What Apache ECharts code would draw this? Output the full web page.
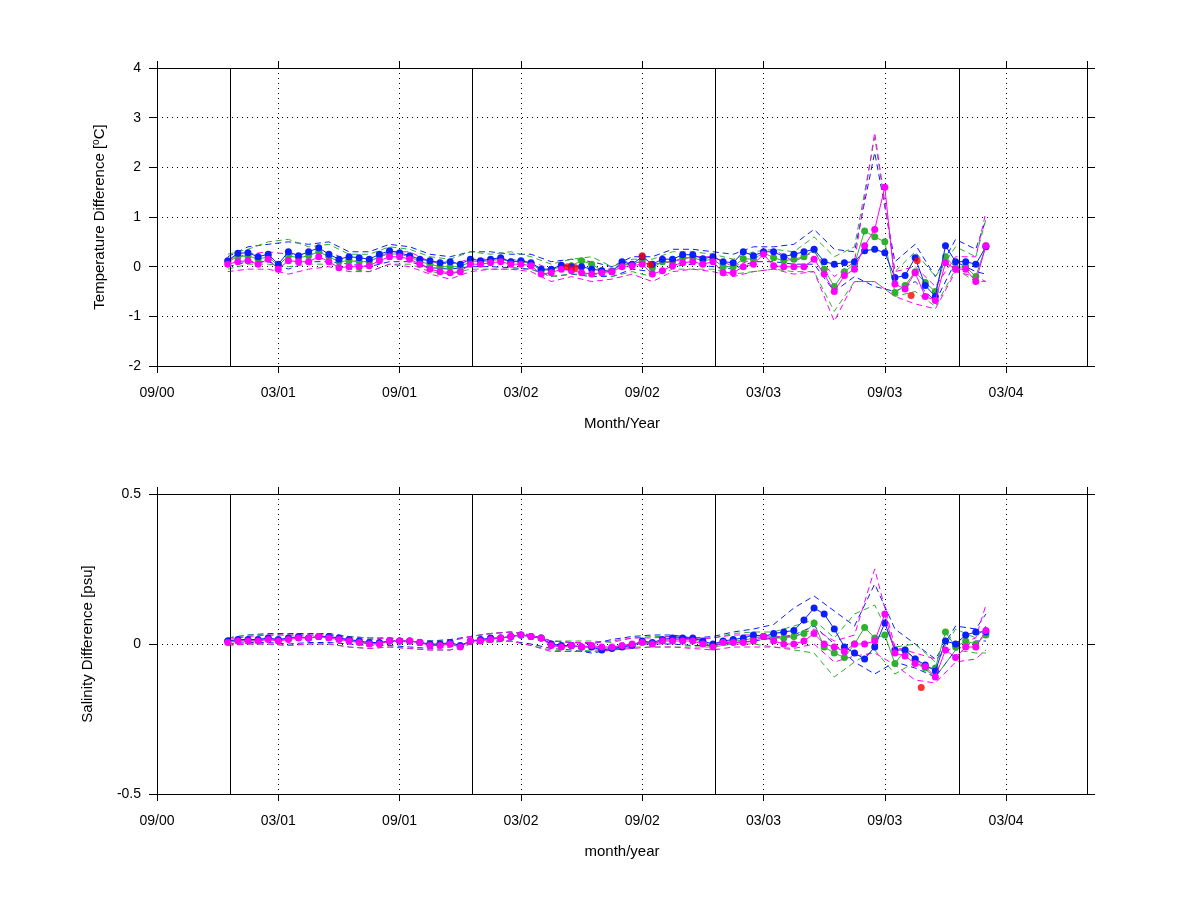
<!DOCTYPE html>
<html><head><meta charset="utf-8">
<script src="https://cdn.jsdelivr.net/npm/echarts@6/dist/echarts.min.js"></script>
<style>html,body{margin:0;background:#fff}#c{width:1200px;height:900px}</style>
</head><body><div id="c"></div>
<script>
// x in months since Sep 2000
const tickLabels = ['09/00','03/01','09/01','03/02','09/02','03/03','09/03','03/04'];
const yearLines = [3.6, 15.6, 27.6, 39.7];
const xsMean = []; for (let m = 3.5; m <= 41.001; m += 0.5) xsMean.push(+m.toFixed(1));
const xsEnv = []; for (let m = 3.5; m <= 40.501; m += 1) xsEnv.push(m); xsEnv.push(41);

// Temperature (top)
const tBlue = [.12,.27,.28,.2,.25,.05,.3,.22,.3,.38,.25,.15,.2,.18,.15,.25,.32,.28,.22,.15,.12,.08,.1,.05,.15,.12,.15,.18,.1,.12,.08,-.05,-.05,.03,0,0,-.05,-.08,-.1,.1,.05,.2,.05,.15,.15,.24,.24,.16,.2,.1,.08,.3,.22,.3,.3,.2,.25,.3,.35,.1,.05,.08,.1,.32,.35,.28,-.22,-.18,.18,-.38,-.6,.42,.1,.1,.05,.4];
const tMag = [.05,.1,.12,.05,.15,-.05,.12,.1,.1,.2,.1,-.02,0,0,.02,.12,.2,.2,.15,.05,-.05,-.1,-.12,-.1,.05,.05,.08,.1,.05,.05,.02,-.15,-.12,-.05,-.08,-.12,-.15,-.12,-.1,0,.02,.05,-.15,-.08,.02,.08,.1,.05,.1,-.12,-.12,0,.05,.25,.02,0,0,0,.15,-.15,-.5,-.18,-.05,.42,.75,1.6,-.35,-.45,-.12,-.6,-.68,.08,-.05,-.05,-.3,.42];
const tGreen = [.1,.2,.22,.15,.2,.02,.22,.18,.22,.3,.2,.1,.12,.1,.1,.2,.26,.25,.2,.1,.05,0,0,0,.1,.1,.12,.15,.1,.1,.06,-.08,-.06,0,.02,.12,.05,-.08,-.08,.05,.04,.12,-.02,.1,.1,.18,.18,.12,.15,0,0,.16,.15,.28,.18,.12,.15,.2,.34,-.05,-.4,-.1,.05,.72,.6,.5,-.52,-.38,-.1,-.32,-.5,.2,-.02,0,-.2,.42];
const tRed = [[20.3,0.0],[20.7,-0.02],[24.0,0.22],[24.4,0.04],[37.3,-0.58],[37.6,0.12]];
const tBlueHi = [.2,.4,.45,.5,.45,.5,.3,.3,.45,.4,.25,.2,.3,.3,.25,.25,.1,.15,.1,0,.2,.2,.35,.35,.3,.25,.4,.4,.45,.75,.35,.3,2.3,.1,.45,-.2,.55,.35,.95];
const tBlueLo = [0,.1,.1,-.05,.1,.1,.05,0,.1,.1,-.02,-.05,0,0,-.02,-.05,-.2,-.15,-.2,-.2,-.05,-.1,0,.05,0,-.05,.1,.1,.05,.05,-.5,-.2,-.4,-.5,-.3,-.7,.1,-.1,-.15];
const tMagHi = [.15,.25,.3,.25,.25,.3,.12,.1,.3,.3,.1,.05,.15,.15,.15,.1,-.05,0,-.05,-.05,.1,.05,.1,.2,.2,0,.15,.35,.1,.3,-.2,.1,2.7,-.1,0,-.4,.2,.2,1.1];
const tMagLo = [-.1,-.05,-.05,-.15,-.05,0,-.1,-.1,.05,0,-.15,-.25,-.1,-.05,-.05,-.1,-.3,-.2,-.3,-.25,-.15,-.3,-.1,-.05,-.1,-.2,-.1,-.05,-.15,-.1,-1.1,-.3,-.3,-.6,-.75,-.85,-.1,-.2,-.3];
const tGreenHi = [.25,.35,.5,.55,.4,.45,.25,.25,.4,.35,.2,.15,.3,.25,.3,.2,.05,.15,.2,0,.15,.15,.3,.3,.25,.15,.3,.35,.3,.6,.2,.4,2.6,-.1,.3,-.2,.4,.2,.95];
const tGreenLo = [-.05,.05,.05,0,.05,.05,-.05,-.1,.05,.05,-.1,-.15,-.05,-.05,-.05,-.05,-.2,-.15,-.15,-.2,-.1,-.2,-.05,-.05,-.05,-.15,-.1,-.05,-.1,-.1,-.9,-.3,-.3,-.6,-.5,-.8,-.05,-.3,-.3];

// Salinity (bottom)
const sBlue = [.01,.015,.015,.015,.02,.015,.02,.025,.02,.025,.025,.02,.015,.01,.005,.005,.01,.01,.01,.005,0,0,.005,-.005,.01,.015,.02,.02,.025,.03,.025,.02,0,-.005,-.005,-.01,-.01,-.02,-.015,-.01,-.005,.01,.005,.015,.02,.02,.02,.01,0,.01,.015,.02,.03,.025,.035,.04,.045,.08,.12,.1,.05,-.01,-.03,-.05,-.01,.07,-.02,-.02,-.05,-.07,-.09,.01,0,.03,.04,.04];
const sMag = [.005,.01,.01,.01,.015,.01,.015,.02,.02,.025,.02,.015,.01,.005,0,0,.01,.01,.01,.005,-.005,-.005,0,-.01,.01,.01,.015,.02,.025,.03,.025,.02,-.005,-.01,-.005,-.01,-.005,-.01,-.01,-.005,0,.005,0,.01,.01,.01,.01,0,-.01,.005,.005,.005,.01,.025,.01,0,0,.01,.035,0,-.01,-.025,0,0,.01,.1,-.03,-.04,-.065,-.075,-.11,-.02,-.045,-.01,-.01,.045];
const sGreen = [.01,.012,.012,.012,.018,.012,.018,.022,.02,.025,.022,.018,.012,.008,.002,.002,.01,.01,.01,.005,-.002,-.002,.002,-.008,.01,.012,.018,.02,.025,.03,.025,.02,-.002,-.008,-.005,-.01,-.008,-.015,-.012,-.008,-.002,.008,.002,.012,.015,.015,.015,.005,-.005,.008,.01,.012,.02,.025,.02,.02,.025,.035,.07,-.01,-.03,-.045,0,.055,.02,.03,-.065,-.02,-.05,-.08,-.08,.04,-.01,.01,0,.03];
const sRed = [[37.8,-0.145]];
const sBlueHi = [.02,.03,.035,.035,.035,.035,.025,.02,.02,.015,.01,.015,.025,.035,.04,.03,.01,.005,0,.015,.025,.03,.03,.02,.025,.04,.05,.065,.12,.16,.11,.06,.2,.05,0,-.05,.06,.05,.1];
const sBlueLo = [0,.005,.005,0,.005,.005,0,-.005,-.005,-.01,-.015,-.01,.005,.01,.01,0,-.015,-.02,-.03,-.02,0,0,0,-.005,-.005,.005,.01,.02,.03,.06,0,-.06,-.1,-.06,-.08,-.11,-.02,.01,.01];
const sMagHi = [.015,.025,.03,.03,.03,.03,.02,.015,.02,.015,.005,.01,.025,.035,.04,.03,.01,.005,.005,.01,.02,.02,.025,.015,.02,.03,.03,.025,.025,.05,.01,.03,.25,-.01,-.03,-.05,-.005,.02,.13];
const sMagLo = [-.005,0,0,-.005,0,0,-.01,-.015,-.01,-.015,-.02,-.02,0,.01,.01,-.005,-.025,-.025,-.025,-.02,-.015,-.01,-.01,-.015,-.02,-.01,-.01,-.01,-.015,0,-.06,-.04,-.03,-.07,-.12,-.13,-.06,-.05,-.02];
const sGreenHi = [.02,.03,.03,.03,.03,.03,.025,.02,.02,.015,.01,.01,.025,.035,.04,.03,.01,.01,.01,.005,.02,.025,.025,.02,.02,.035,.04,.04,.06,.08,.02,.1,.13,-.01,0,-.06,.05,.02,.06];
const sGreenLo = [0,0,0,-.005,0,0,-.01,-.015,-.01,-.015,-.02,-.02,0,.005,.01,-.005,-.02,-.025,-.02,-.02,-.01,-.01,-.01,-.01,-.01,0,0,-.01,-.02,-.03,-.11,-.06,-.02,-.1,-.06,-.11,-.02,-.03,-.03];

const BLUE='#0a1eff', MAG='#ff00ff', GREEN='#2fb02f', RED='#ff0000';
const F = 'Liberation Sans';
const pair = (xs, ys) => xs.map((x,i)=>[x, ys[i]]);

function env(gi, ys, color){
  return {type:'line', xAxisIndex:gi*2, yAxisIndex:gi*2, data:pair(xsEnv, ys), symbol:'none', silent:true,
    lineStyle:{color, width:1, type:[6,4]}, z:2};
}
function mean(gi, ys, color, z){
  return {type:'line', xAxisIndex:gi*2, yAxisIndex:gi*2, data:pair(xsMean, ys), symbol:'circle', symbolSize:7,
    itemStyle:{color}, lineStyle:{color, width:1}, z};
}
function red(gi, pts){
  return {type:'scatter', xAxisIndex:gi*2, yAxisIndex:gi*2, data:pts, symbol:'circle', symbolSize:7, itemStyle:{color:RED}, z:6};
}
function vlines(gi){
  return {type:'line', xAxisIndex:gi*2, yAxisIndex:gi*2, data:[], markLine:{silent:true, symbol:'none', label:{show:false},
    lineStyle:{color:'#000', width:1, type:'solid'}, data: yearLines.map(v=>({xAxis:v}))}};
}
const axLine = {show:true, onZero:false, lineStyle:{color:'#000', width:1}};
function xAx(gi, name){
  return [{type:'value', gridIndex:gi, min:0, max:46, interval:6, position:'bottom',
    axisLine:axLine, axisTick:{show:true, inside:false, length:7, lineStyle:{color:'#000'}},
    axisLabel:{color:'#000', fontFamily:F, fontSize:14, margin:20, showMaxLabel:false, formatter:v=>tickLabels[Math.round(v/6)]||''},
    splitLine:{show:true, lineStyle:{color:'#000', type:[1,4], width:1}},
    name, nameLocation:'middle', nameGap:50, nameTextStyle:{color:'#000', fontFamily:F, fontSize:15}},
   {type:'value', gridIndex:gi, min:0, max:46, interval:6, position:'top', axisLine:axLine,
    axisTick:{show:true, length:7, lineStyle:{color:'#000'}}, axisLabel:{show:false}, splitLine:{show:false}}];
}
function yAx(gi, min, max, interval, fmt, name, gap){
  return [{type:'value', gridIndex:gi, min, max, interval, position:'left', axisLine:axLine,
    axisTick:{show:true, length:8, lineStyle:{color:'#000'}},
    axisLabel:{color:'#000', fontFamily:F, fontSize:14, margin:16, formatter:fmt},
    splitLine:{show:true, lineStyle:{color:'#000', type:[1,4], width:1}},
    name, nameLocation:'middle', nameGap:gap, nameRotate:90,
    nameTextStyle:{color:'#000', fontFamily:F, fontSize:15, rich:{sup:{fontSize:10, verticalAlign:'top', padding:[0,0,8,0], fontFamily:F}}}},
   {type:'value', gridIndex:gi, min, max, interval, position:'right', axisLine:axLine,
    axisTick:{show:true, length:8, lineStyle:{color:'#000'}}, axisLabel:{show:false}, splitLine:{show:false}}];
}
const option = {
  animation:false, backgroundColor:'#fff',
  grid:[{left:157, right:113, top:68, height:298}, {left:157, right:113, top:494, height:300}],
  xAxis:[...xAx(0,'Month/Year'), ...xAx(1,'month/year')],
  yAxis:[...yAx(0,-2,4,1,v=>String(v),'Temperature Difference [{sup|o}C]',48),
         ...yAx(1,-0.5,0.5,0.5,v=>String(v),'Salinity Difference [psu]',62)],
  series:[
    vlines(0), vlines(1),
    env(0,tBlueHi,BLUE), env(0,tBlueLo,BLUE), env(0,tGreenHi,GREEN), env(0,tGreenLo,GREEN), env(0,tMagHi,MAG), env(0,tMagLo,MAG),
    mean(0,tGreen,GREEN,3), mean(0,tBlue,BLUE,4), mean(0,tMag,MAG,5), red(0,tRed),
    env(1,sBlueHi,BLUE), env(1,sBlueLo,BLUE), env(1,sGreenHi,GREEN), env(1,sGreenLo,GREEN), env(1,sMagHi,MAG), env(1,sMagLo,MAG),
    mean(1,sGreen,GREEN,3), mean(1,sBlue,BLUE,4), mean(1,sMag,MAG,5), red(1,sRed)
  ]
};
echarts.init(document.getElementById('c')).setOption(option);
</script></body></html>
